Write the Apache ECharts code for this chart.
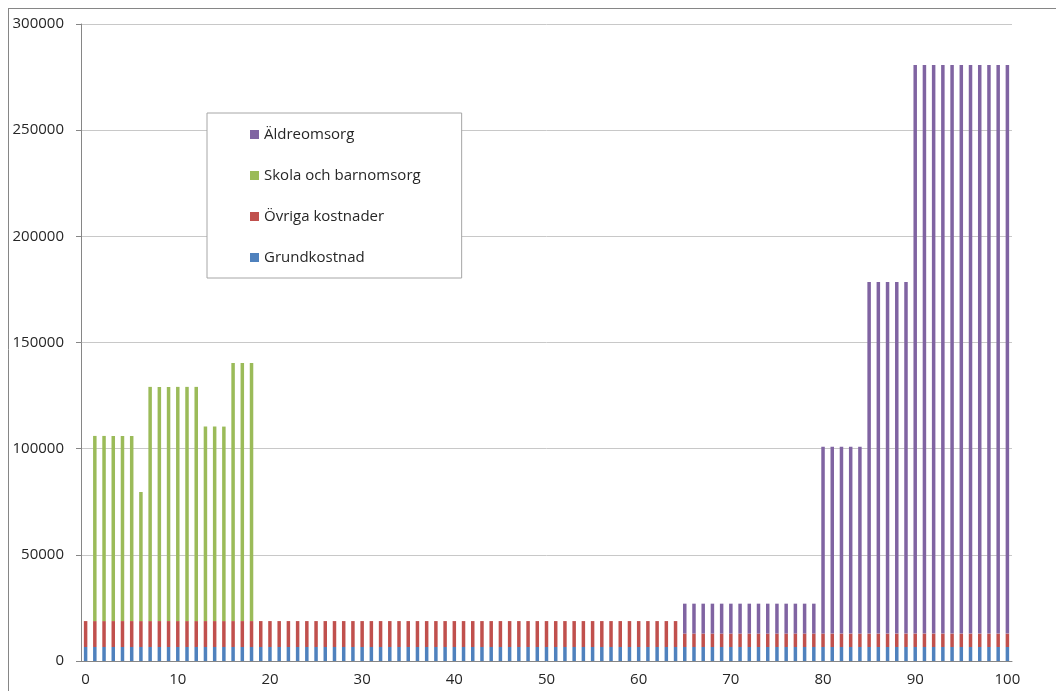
<!DOCTYPE html>
<html>
<head>
<meta charset="utf-8">
<script src="https://cdn.jsdelivr.net/npm/echarts@6/dist/echarts.min.js"></script>
<style>
  html, body { margin: 0; padding: 0; background: #fff; }
  #chart { width: 1056px; height: 691px; }
</style>
</head>
<body>
<div id="chart"></div>
<script>
// ages 0..100
var ages = [0,1,2,3,4,5,6,7,8,9,10,11,12,13,14,15,16,17,18,19,20,21,22,23,24,25,26,27,28,29,30,31,32,33,34,35,36,37,38,39,40,41,42,43,44,45,46,47,48,49,50,51,52,53,54,55,56,57,58,59,60,61,62,63,64,65,66,67,68,69,70,71,72,73,74,75,76,77,78,79,80,81,82,83,84,85,86,87,88,89,90,91,92,93,94,95,96,97,98,99,100];

var grundkostnad = [6600,6600,6600,6600,6600,6600,6600,6600,6600,6600,6600,6600,6600,6600,6600,6600,6600,6600,6600,6600,6600,6600,6600,6600,6600,6600,6600,6600,6600,6600,6600,6600,6600,6600,6600,6600,6600,6600,6600,6600,6600,6600,6600,6600,6600,6600,6600,6600,6600,6600,6600,6600,6600,6600,6600,6600,6600,6600,6600,6600,6600,6600,6600,6600,6600,6600,6600,6600,6600,6600,6600,6600,6600,6600,6600,6600,6600,6600,6600,6600,6600,6600,6600,6600,6600,6600,6600,6600,6600,6600,6600,6600,6600,6600,6600,6600,6600,6600,6600,6600,6600];

var ovrigaKostnader = [12200,12200,12200,12200,12200,12200,12200,12200,12200,12200,12200,12200,12200,12200,12200,12200,12200,12200,12200,12200,12200,12200,12200,12200,12200,12200,12200,12200,12200,12200,12200,12200,12200,12200,12200,12200,12200,12200,12200,12200,12200,12200,12200,12200,12200,12200,12200,12200,12200,12200,12200,12200,12200,12200,12200,12200,12200,12200,12200,12200,12200,12200,12200,12200,12200,6300,6300,6300,6300,6300,6300,6300,6300,6300,6300,6300,6300,6300,6300,6300,6300,6300,6300,6300,6300,6300,6300,6300,6300,6300,6300,6300,6300,6300,6300,6300,6300,6300,6300,6300,6300];

var skola = [0,87200,87200,87200,87200,87200,60800,110300,110300,110300,110300,110300,110300,91600,91600,91600,121600,121600,121600,0,0,0,0,0,0,0,0,0,0,0,0,0,0,0,0,0,0,0,0,0,0,0,0,0,0,0,0,0,0,0,0,0,0,0,0,0,0,0,0,0,0,0,0,0,0,0,0,0,0,0,0,0,0,0,0,0,0,0,0,0,0,0,0,0,0,0,0,0,0,0,0,0,0,0,0,0,0,0,0,0,0];

var aldreomsorg = [0,0,0,0,0,0,0,0,0,0,0,0,0,0,0,0,0,0,0,0,0,0,0,0,0,0,0,0,0,0,0,0,0,0,0,0,0,0,0,0,0,0,0,0,0,0,0,0,0,0,0,0,0,0,0,0,0,0,0,0,0,0,0,0,0,14100,14100,14100,14100,14100,14100,14100,14100,14100,14100,14100,14100,14100,14100,14100,88000,88000,88000,88000,88000,165600,165600,165600,165600,165600,267800,267800,267800,267800,267800,267800,267800,267800,267800,267800,267800];

var seriesNames = ['Grundkostnad', 'Övriga kostnader', 'Skola och barnomsorg', 'Äldreomsorg'];
var seriesColors = ['#4F81BD', '#C0504D', '#9BBB59', '#8064A2'];
var legendOrder = ['Äldreomsorg', 'Skola och barnomsorg', 'Övriga kostnader', 'Grundkostnad'];

var FONT = '"Open Sans", "Liberation Sans", sans-serif';

function barSeries(idx, values) {
  return {
    name: seriesNames[idx],
    type: 'bar',
    stack: 'total',
    barWidth: '38%',
    itemStyle: { color: seriesColors[idx] },
    data: values
  };
}

var chart = echarts.init(document.getElementById('chart'), null, { renderer: 'canvas' });

var option = {
  animation: false,
  backgroundColor: '#fff',
  textStyle: { fontFamily: FONT },
  grid: { left: 81, right: 44, top: 24, bottom: 30 },
  legend: {
    orient: 'vertical',
    left: 207,
    top: 113,
    data: legendOrder,
    icon: 'rect',
    itemWidth: 9,
    itemHeight: 9,
    itemGap: 26,
    padding: [14, 41, 13, 43],
    borderColor: '#a6a6a6',
    borderWidth: 1,
    backgroundColor: '#fff',
    textStyle: { fontFamily: FONT, fontSize: 15, color: '#262626' }
  },
  xAxis: {
    type: 'category',
    data: ages,
    boundaryGap: true,
    axisLine: { lineStyle: { color: '#868686' } },
    axisTick: { interval: 9, length: 5, alignWithLabel: false, lineStyle: { color: '#868686' } },
    axisLabel: { interval: 9, margin: 11, fontSize: 15, color: '#262626', fontFamily: FONT },
    splitLine: { show: false }
  },
  yAxis: {
    type: 'value',
    min: 0,
    max: 300000,
    interval: 50000,
    axisLine: { show: true, lineStyle: { color: '#868686' } },
    axisTick: { show: true, length: 5, lineStyle: { color: '#868686' } },
    axisLabel: {
      margin: 17, fontSize: 15, color: '#262626', fontFamily: FONT,
      formatter: function (v) { return String(v); }
    },
    splitLine: { lineStyle: { color: '#c8c8c8' } }
  },
  graphic: [
    { type: 'line', shape: { x1: 8, y1: 8.5, x2: 1056, y2: 8.5 }, style: { stroke: '#868686', lineWidth: 1 } },
    { type: 'line', shape: { x1: 8.5, y1: 8, x2: 8.5, y2: 691 }, style: { stroke: '#868686', lineWidth: 1 } }
  ],
  series: [
    barSeries(0, grundkostnad),
    barSeries(1, ovrigaKostnader),
    barSeries(2, skola),
    barSeries(3, aldreomsorg)
  ]
};

chart.setOption(option);
</script>
</body>
</html>
